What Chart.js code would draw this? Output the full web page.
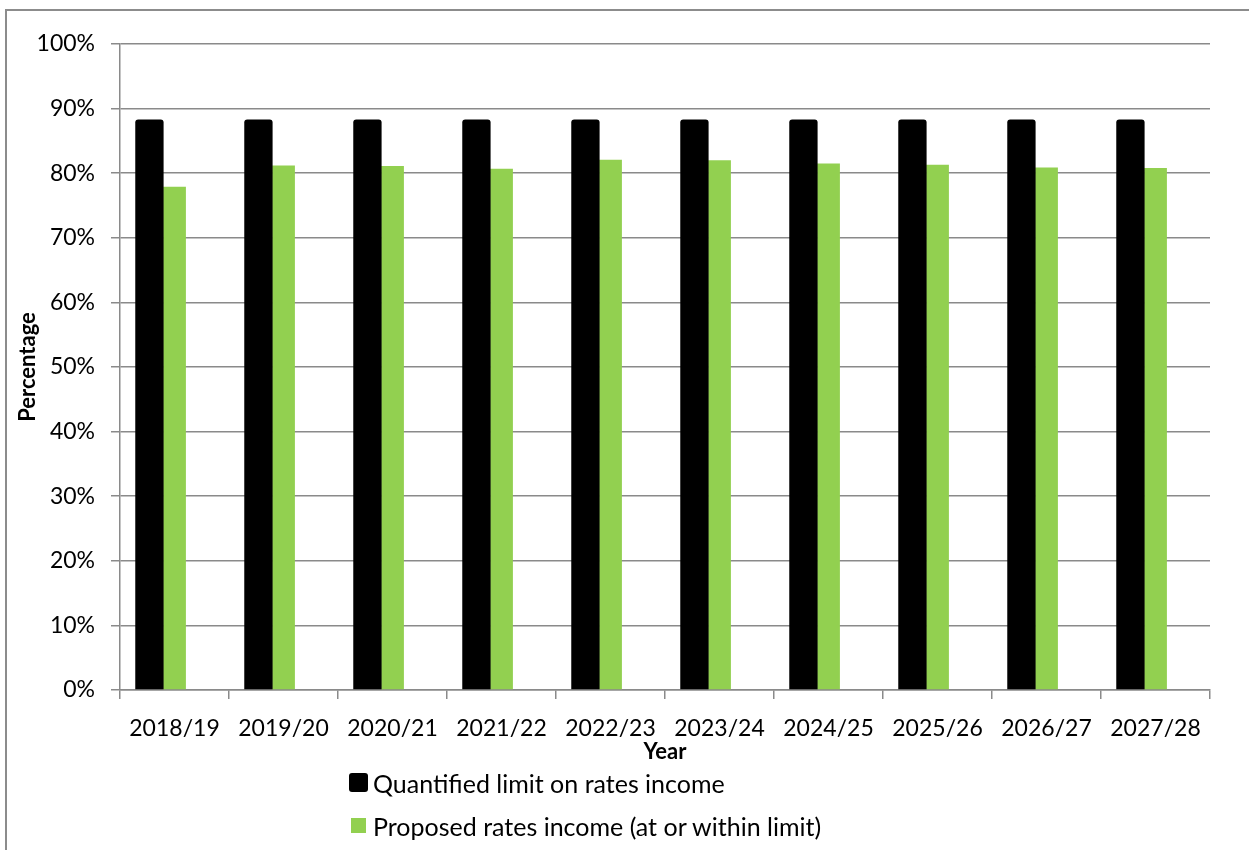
<!DOCTYPE html>
<html>
<head>
<meta charset="utf-8">
<script src="https://cdn.jsdelivr.net/npm/chart.js@4.4.1/dist/chart.umd.min.js"></script>
<style>
    html, body { margin: 0; padding: 0; background: #fff; }
    #wrap { position: relative; width: 1249px; height: 850px; overflow: hidden; }
    #frame {
        position: absolute; left: 5px; top: 9px; width: 1300px; height: 900px;
        border-left: 2px solid #8c8c8c; border-top: 2px solid #8c8c8c;
    }
    #legend { position: absolute; left: 349px; top: 761px; font-family: Lato, sans-serif; font-size: 25px; color: #000; }
    .legend-item { display: flex; align-items: center; height: 43px; }
    .legend-box { flex: none; }
    .legend-text { margin-left: 5px; white-space: nowrap; }
</style>
</head>
<body>
<div id="wrap">
    <canvas id="rateChart" width="1249" height="850"></canvas>
    <div id="frame"></div>
    <div id="legend"></div>
</div>
<script>
const years = ['2018/19', '2019/20', '2020/21', '2021/22', '2022/23', '2023/24', '2024/25', '2025/26', '2026/27', '2027/28'];
const limitValues = [88.3, 88.3, 88.3, 88.3, 88.3, 88.3, 88.3, 88.3, 88.3, 88.3];
const proposedValues = [77.9, 81.2, 81.1, 80.7, 82.1, 82.0, 81.5, 81.3, 80.9, 80.8];
// Excel left an empty third series, which pushes the pairs left of centre
const emptyValues = [null, null, null, null, null, null, null, null, null, null];
const yMin = 0, yMax = 100, yStep = 10;

const gridGrey = '#8a8a8a';
const tickFont = { family: 'Lato', size: 23 };
const titleFont = { family: 'Lato', size: 22, weight: 'bold' };

const chart = new Chart(document.getElementById('rateChart'), {
    type: 'bar',
    data: {
        labels: years,
        datasets: [
            {
                label: 'Quantified limit on rates income',
                data: limitValues,
                backgroundColor: '#000000',
                borderRadius: 3,
                barPercentage: 1.13,
                categoryPercentage: 0.69
            },
            {
                label: 'Proposed rates income (at or within limit)',
                data: proposedValues,
                backgroundColor: '#92d050',
                barPercentage: 0.91,
                categoryPercentage: 0.69
            },
            {
                label: '',
                data: emptyValues,
                backgroundColor: 'rgba(0,0,0,0)',
                barPercentage: 0.91,
                categoryPercentage: 0.69
            }
        ]
    },
    options: {
        responsive: false,
        animation: false,
        layout: { padding: { top: 44, right: 39, bottom: 85, left: 0 } },
        plugins: {
            legend: { display: false },
            tooltip: { enabled: false }
        },
        scales: {
            x: {
                grid: {
                    display: true,
                    drawOnChartArea: false,
                    drawTicks: true,
                    tickLength: 9,
                    color: gridGrey,
                    lineWidth: 1.5
                },
                border: { color: gridGrey, width: 1.5 },
                ticks: { color: '#000', font: tickFont, padding: 16, maxRotation: 0, autoSkip: false },
                title: { display: true, text: 'Year', color: '#000', font: titleFont, padding: { top: -20, bottom: 0 } }
            },
            y: {
                min: yMin,
                max: yMax,
                afterFit: (scale) => { scale.width = 120; },
                grid: { color: gridGrey, lineWidth: 1.5, tickLength: 9 },
                border: { color: gridGrey, width: 1.5 },
                ticks: {
                    stepSize: yStep,
                    color: '#000',
                    font: tickFont,
                    padding: 16,
                    callback: (v) => v + '%'
                },
                title: { display: true, text: 'Percentage', color: '#000', font: titleFont, padding: { top: 15, bottom: 0 } }
            }
        }
    }
});

// legend built from the chart's datasets, stacked like Excel's
const legendEl = document.getElementById('legend');
const boxSizes = [19, 15];
chart.data.datasets.slice(0, 2).forEach((ds, i) => {
    const item = document.createElement('div');
    item.className = 'legend-item';
    const box = document.createElement('span');
    box.className = 'legend-box';
    box.style.width = boxSizes[i] + 'px';
    box.style.height = boxSizes[i] + 'px';
    box.style.marginLeft = ((19 - boxSizes[i]) / 2) + 'px';
    box.style.marginRight = ((19 - boxSizes[i]) / 2) + 'px';
    box.style.background = ds.backgroundColor;
    box.style.borderRadius = i === 0 ? '3px' : '0';
    const text = document.createElement('span');
    text.className = 'legend-text';
    text.textContent = ds.label;
    item.appendChild(box);
    item.appendChild(text);
    legendEl.appendChild(item);
});
</script>
</body>
</html>
